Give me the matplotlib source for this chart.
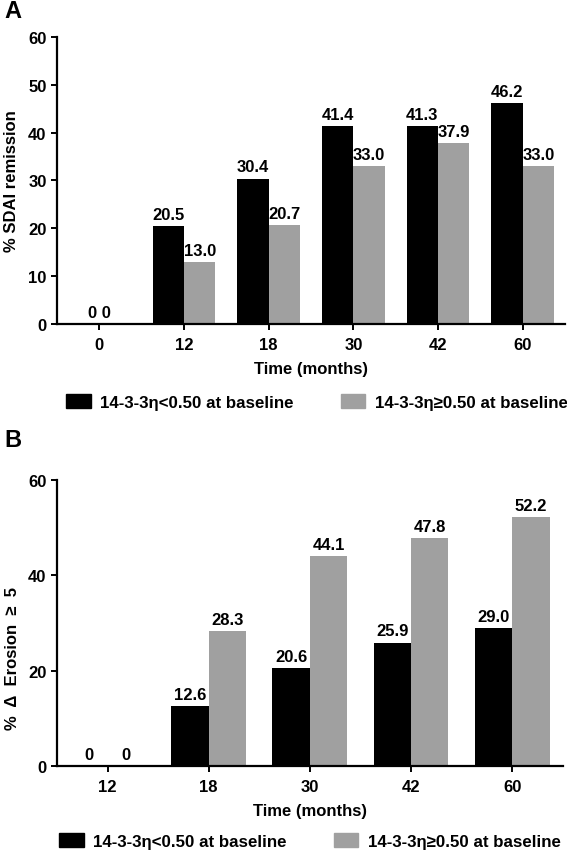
import numpy as np
import matplotlib.pyplot as plt
from matplotlib.patches import Patch

plt.rcParams['font.family'] = ['Liberation Sans', 'DejaVu Sans']

# panel A: SDAI remission
months_a = ['0', '12', '18', '30', '42', '60']
sdai_low = [0, 20.5, 30.4, 41.4, 41.3, 46.2]
sdai_high = [0, 13.0, 20.7, 33.0, 37.9, 33.0]

# panel B: erosion progression
months_b = ['12', '18', '30', '42', '60']
erosion_low = [0, 12.6, 20.6, 25.9, 29.0]
erosion_high = [0, 28.3, 44.1, 47.8, 52.2]

label_low = '14-3-3\u03b7<0.50 at baseline'
label_high = '14-3-3\u03b7\u22650.50 at baseline'

BLACK = '#000000'
GREY = '#a0a0a0'
W = 0.37


def draw_panel(ax, cats, low, high, yticks, ylabel, join_zeros=False):
    x = np.arange(len(cats))
    ax.bar(x - W / 2, low, W, color=BLACK)
    ax.bar(x + W / 2, high, W, color=GREY)

    for i in range(len(cats)):
        if join_zeros and low[i] == 0 and high[i] == 0:
            ax.annotate('0 0', (x[i], 0), xytext=(0, 3), textcoords='offset points',
                        ha='center', va='bottom', fontsize=12, fontweight='bold')
            continue
        for xpos, v in ((x[i] - W / 2, low[i]), (x[i] + W / 2, high[i])):
            txt = '0' if v == 0 else '%.1f' % v
            ax.annotate(txt, (xpos, v), xytext=(0, 3), textcoords='offset points',
                        ha='center', va='bottom', fontsize=12, fontweight='bold')

    ax.set_xlim(-0.5, len(cats) - 0.5)
    ax.set_ylim(0, yticks[-1])
    ax.set_yticks(yticks)
    ax.set_xticks(x)
    ax.set_xticklabels(cats)
    for lab in ax.get_xticklabels() + ax.get_yticklabels():
        lab.set_fontweight('bold')
        lab.set_fontsize(12)
    ax.spines['top'].set_visible(False)
    ax.spines['right'].set_visible(False)
    ax.spines['left'].set_linewidth(1.6)
    ax.spines['bottom'].set_linewidth(1.6)
    ax.tick_params(width=1.4, length=4)
    ax.tick_params(axis='x', pad=5.5)
    ax.set_xlabel('Time (months)', fontsize=12, fontweight='bold', labelpad=6)
    ax.set_ylabel(ylabel, fontsize=12, fontweight='bold')


fig = plt.figure(figsize=(5.67, 8.53), dpi=100)

ax_a = fig.add_axes([0.1005, 0.619, 0.896, 0.3365])
draw_panel(ax_a, months_a, sdai_low, sdai_high, [0, 10, 20, 30, 40, 50, 60],
           '% SDAI remission', join_zeros=True)
ax_a.yaxis.set_label_coords(-0.074, 0.5)

ax_b = fig.add_axes([0.1005, 0.1008, 0.892, 0.3353])
draw_panel(ax_b, months_b, erosion_low, erosion_high, [0, 20, 40, 60],
           '%  \u0394  Erosion  \u2265  5')
ax_b.yaxis.set_label_coords(-0.074, 0.38)

handles = [Patch(color=BLACK), Patch(color=GREY)]
legend_kw = dict(loc='center left', ncol=2, frameon=False, borderpad=0, borderaxespad=0,
                 handlelength=1.45, handleheight=0.85, handletextpad=0.55,
                 columnspacing=2.8, prop={'weight': 'bold', 'size': 12.2})
fig.legend(handles, [label_low, label_high], bbox_to_anchor=(66 / 567, 1 - 403 / 853), **legend_kw)
fig.legend(handles, [label_low, label_high], bbox_to_anchor=(59 / 567, 1 - 842 / 853), **legend_kw)

fig.text(0.008, 1 - 11 / 853, 'A', fontsize=17, fontweight='bold', va='center')
fig.text(0.008, 1 - 441 / 853, 'B', fontsize=17, fontweight='bold', va='center')

fig.savefig('out.png', dpi=100)
